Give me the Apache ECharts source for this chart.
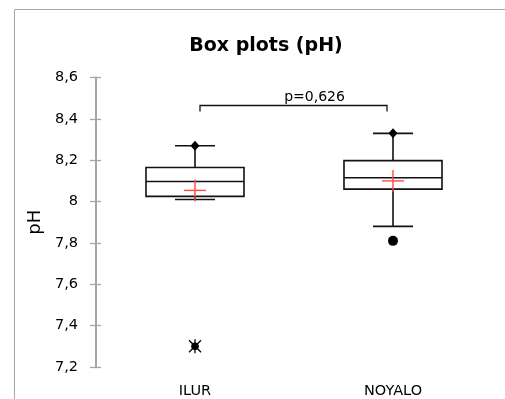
<!DOCTYPE html>
<html>
<head>
<meta charset="utf-8">
<script src="https://cdn.jsdelivr.net/npm/echarts@6/dist/echarts.min.js"></script>
<style>
  html, body { margin: 0; padding: 0; background: #fff; }
  #main { width: 505px; height: 399px; }
</style>
</head>
<body>
<div id="main"></div>
<script>
// data
var categories = ['ILUR', 'NOYALO'];
var whiskerLow = [8.01, 7.88];
var q1 = [8.025, 8.06];
var median = [8.097, 8.115];
var q3 = [8.165, 8.198];
var whiskerHigh = [8.27, 8.33];
var means = [8.054, 8.10];
var maxPoints = [8.27, 8.33];
var outlierCircle = [[1, 7.81]];
var outlierStar = [[0, 7.30]];
var pText = 'p=0,626';
var bracketY = 8.466;

var chart = echarts.init(document.getElementById('main'));

var boxData = categories.map(function (c, i) {
    return [i, whiskerLow[i], q1[i], median[i], q3[i], whiskerHigh[i]];
});

function renderBox(params, api) {
    var idx = api.value(0);
    var pLow = api.coord([idx, api.value(1)]);
    var pQ1 = api.coord([idx, api.value(2)]);
    var pMed = api.coord([idx, api.value(3)]);
    var pQ3 = api.coord([idx, api.value(4)]);
    var pHigh = api.coord([idx, api.value(5)]);
    var x = pLow[0];
    var bw = api.size([1, 0])[0] * 0.495;
    var cap = 20;
    var st = { stroke: '#111', lineWidth: 1.6, fill: null };
    return {
        type: 'group',
        children: [
            { type: 'rect', shape: { x: x - bw / 2, y: pQ3[1], width: bw, height: pQ1[1] - pQ3[1] }, style: { stroke: '#111', lineWidth: 1.6, fill: '#fff' } },
            { type: 'line', shape: { x1: x - bw / 2, y1: pMed[1], x2: x + bw / 2, y2: pMed[1] }, style: st },
            { type: 'line', shape: { x1: x, y1: pQ3[1], x2: x, y2: pHigh[1] }, style: st },
            { type: 'line', shape: { x1: x - cap, y1: pHigh[1], x2: x + cap, y2: pHigh[1] }, style: st },
            { type: 'line', shape: { x1: x, y1: pQ1[1], x2: x, y2: pLow[1] }, style: st },
            { type: 'line', shape: { x1: x - cap, y1: pLow[1], x2: x + cap, y2: pLow[1] }, style: st }
        ]
    };
}

function renderMean(params, api) {
    var p = api.coord([api.value(0), api.value(1)]);
    var st = { stroke: '#ff4646', lineWidth: 1.4 };
    return {
        type: 'group',
        children: [
            { type: 'line', shape: { x1: p[0] - 11, y1: p[1], x2: p[0] + 11, y2: p[1] }, style: st },
            { type: 'line', shape: { x1: p[0], y1: p[1] - 11, x2: p[0], y2: p[1] + 11 }, style: st }
        ]
    };
}

function renderStar(params, api) {
    var p = api.coord([api.value(0), api.value(1)]);
    var st = { stroke: '#000', lineWidth: 1.3 };
    return {
        type: 'group',
        children: [
            { type: 'line', shape: { x1: p[0], y1: p[1] - 7, x2: p[0], y2: p[1] + 7 }, style: st },
            { type: 'line', shape: { x1: p[0] - 6, y1: p[1] - 6, x2: p[0] + 6, y2: p[1] + 6 }, style: st },
            { type: 'line', shape: { x1: p[0] - 6, y1: p[1] + 6, x2: p[0] + 6, y2: p[1] - 6 }, style: st },
            { type: 'circle', shape: { cx: p[0], cy: p[1], r: 3.8 }, style: { fill: '#000' } }
        ]
    };
}

function renderBracket(params, api) {
    var a = api.coord([api.value(0), api.value(2)]);
    var b = api.coord([api.value(1), api.value(2)]);
    var x1 = a[0] + 5, x2 = b[0] - 6, y = Math.round(a[1]) + 0.5;
    return {
        type: 'group',
        children: [
            { type: 'polyline', shape: { points: [[x1, y + 6], [x1, y], [x2, y], [x2, y + 6]] }, style: { stroke: '#111', lineWidth: 1.3, fill: null } },
            { type: 'text', x: (x1 + x2) / 2 + 21, y: y - 1, style: { text: pText, fill: '#000', font: '14px "DejaVu Sans"', align: 'center', verticalAlign: 'bottom' } }
        ]
    };
}

var yFmt = function (v) { return String(+v.toFixed(1)).replace('.', ','); };

var option = {
    animation: false,
    backgroundColor: '#fff',
    title: {
        text: 'Box plots (pH)',
        left: 261, top: 32, textAlign: 'center',
        textStyle: { fontFamily: 'DejaVu Sans', fontWeight: 'bold', fontSize: 19, color: '#000' }
    },
    graphic: [{
        type: 'rect', silent: true, z: -1,
        shape: { x: 14.5, y: 9.5, width: 700, height: 700 },
        style: { fill: 'none', stroke: '#a6a6a6', lineWidth: 1 }
    }],
    grid: { left: 96, right: 13, top: 77.5, bottom: 31 },
    xAxis: {
        type: 'category',
        data: categories,
        axisLine: { show: false },
        axisTick: { show: false },
        axisLabel: { margin: 17, fontFamily: 'DejaVu Sans', fontSize: 14.5, color: '#000' }
    },
    yAxis: [{
        type: 'value', min: 7.2, max: 8.6, interval: 0.2,
        name: 'pH', nameLocation: 'middle', nameGap: 50,
        nameTextStyle: { fontFamily: 'DejaVu Sans', fontSize: 18, color: '#000' },
        axisLine: { show: true, lineStyle: { color: '#a6a6a6', width: 2 } },
        axisTick: { show: true, length: 6, lineStyle: { color: '#a6a6a6', width: 1.3 } },
        axisLabel: { margin: 18, fontFamily: 'DejaVu Sans', fontSize: 14.5, color: '#000', formatter: yFmt },
        splitLine: { show: false }
    }, {
        type: 'value', min: 7.2, max: 8.6, interval: 0.2, position: 'left', offset: 0,
        axisLine: { show: false },
        axisTick: { show: true, inside: true, length: 5, lineStyle: { color: '#a6a6a6', width: 1.3 } },
        axisLabel: { show: false },
        splitLine: { show: false }
    }],
    series: [{
        type: 'custom', renderItem: renderBox, data: boxData, z: 2
    }, {
        type: 'custom', renderItem: renderMean, z: 3,
        data: means.map(function (m, i) { return [i, m]; })
    }, {
        type: 'scatter', symbol: 'diamond', symbolSize: [9, 10], z: 4,
        itemStyle: { color: '#000', opacity: 1 },
        data: maxPoints.map(function (m, i) { return [i, m]; })
    }, {
        type: 'scatter', symbol: 'circle', symbolSize: 10, z: 4,
        itemStyle: { color: '#000', opacity: 1 },
        data: outlierCircle
    }, {
        type: 'custom', renderItem: renderStar, z: 4, data: outlierStar
    }, {
        type: 'custom', renderItem: renderBracket, z: 4, data: [[0, 1, bracketY]]
    }]
};

chart.setOption(option);
</script>
</body>
</html>
